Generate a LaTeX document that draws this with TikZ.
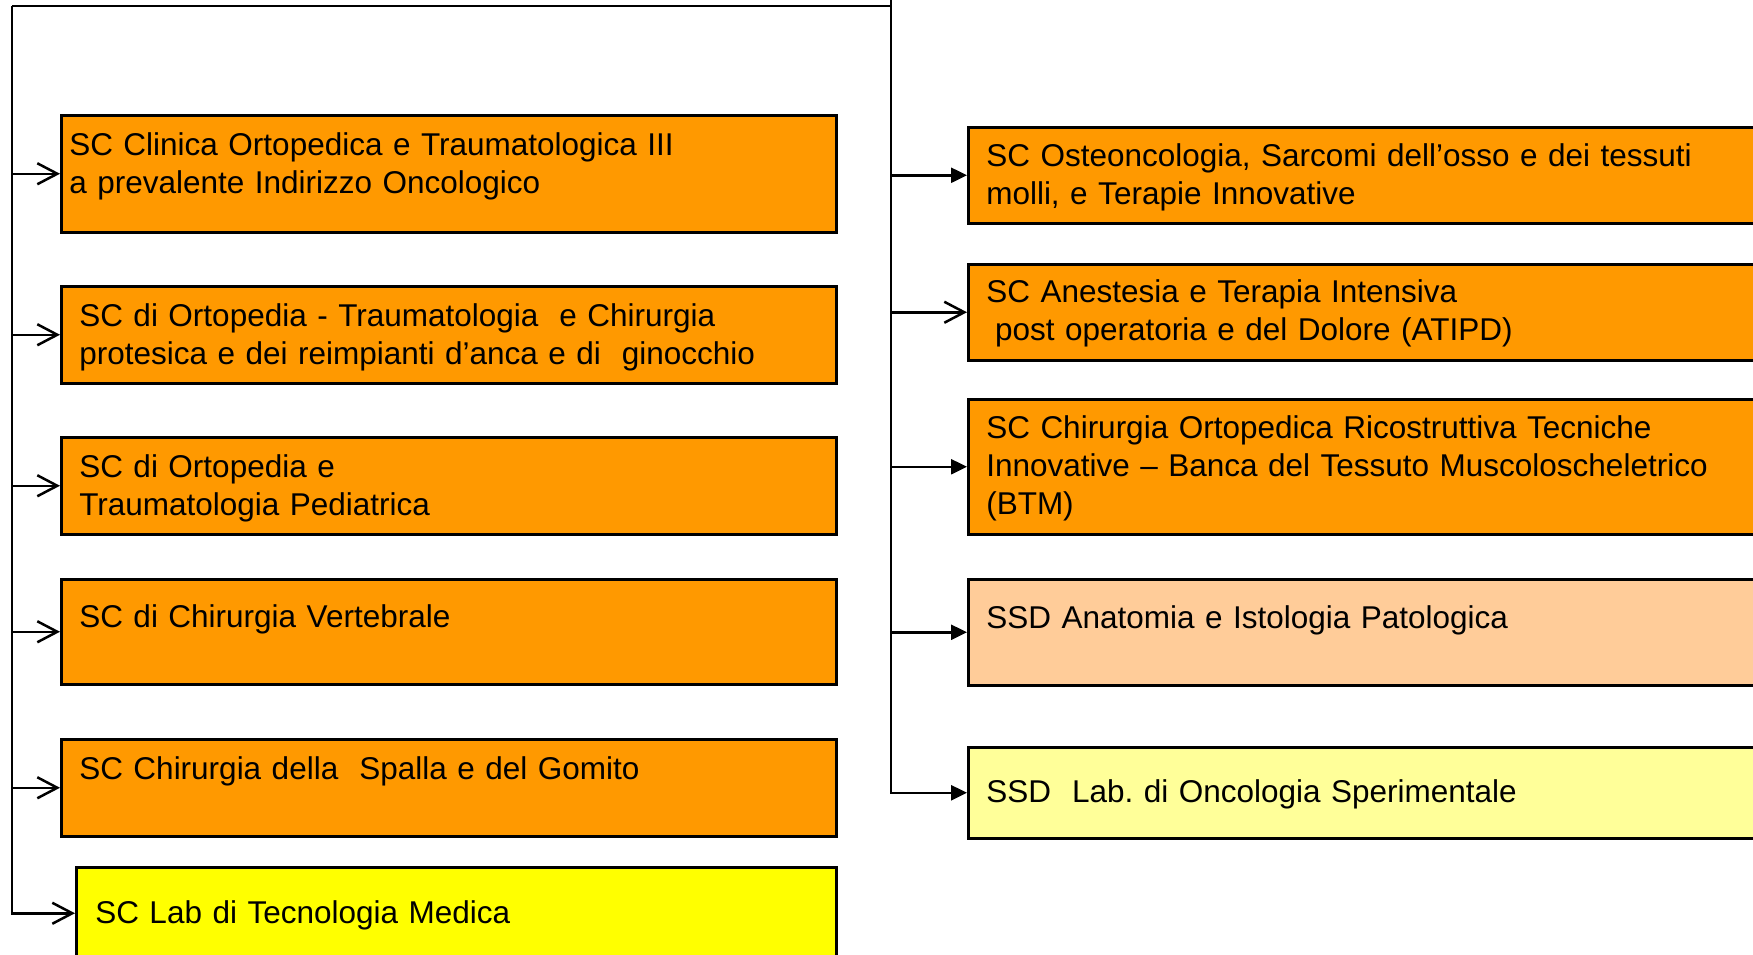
\documentclass[tikz,border=0pt]{standalone}
\usepackage{fontspec}
\setmainfont{Liberation Sans}
\usetikzlibrary{arrows.meta}

\tikzset{every picture/.style={line width=2.5pt}}
\tikzset{
  unitbox/.style={draw=black, line width=2.5pt, anchor=north west, inner sep=0pt},
  orangebox/.style={unitbox, fill={rgb, 255:red, 255; green, 153; blue, 0 }},
  peachbox/.style={unitbox, fill={rgb, 255:red, 255; green, 204; blue, 153 }},
  paleyellowbox/.style={unitbox, fill={rgb, 255:red, 255; green, 255; blue, 153 }},
  yellowbox/.style={unitbox, fill={rgb, 255:red, 255; green, 255; blue, 0 }},
  unittext/.style={anchor=base west, inner sep=0pt, align=left, text width=760pt, font=\fontsize{31.5}{38}\selectfont\frenchspacing},
  openarrow/.style={-{Straight Barb[length=20pt, width=21pt]}},
  fullarrow/.style={-{Triangle[length=16pt, width=15pt]}},
}

\begin{document}
\begin{tikzpicture}[x=1pt,y=1pt,yscale=-1,xscale=1]
  %set diagram left start at 0, and has height of 954
  \useasboundingbox (0,0) rectangle (1753,954);

  % left column
  \node [orangebox, minimum width=775, minimum height=117] (l1) at (60,114) {};
  \node [orangebox, minimum width=775, minimum height=97] (l2) at (60,285) {};
  \node [orangebox, minimum width=775, minimum height=97] (l3) at (60,436) {};
  \node [orangebox, minimum width=775, minimum height=105] (l4) at (60,578) {};
  \node [orangebox, minimum width=775, minimum height=97] (l5) at (60,738) {};
  \node [yellowbox, minimum width=760, minimum height=92] (l6) at (75,866) {};

  % right column
  \node [orangebox, minimum width=810, minimum height=96] (r1) at (967,126) {};
  \node [orangebox, minimum width=810, minimum height=96] (r2) at (967,263) {};
  \node [orangebox, minimum width=810, minimum height=135] (r3) at (967,398) {};
  \node [peachbox, minimum width=810, minimum height=106] (r4) at (967,578) {};
  \node [paleyellowbox, minimum width=810, minimum height=91] (r5) at (967,746) {};

  \node [unittext] (t1) at (68,155) {SC Clinica Ortopedica e Traumatologica III\\a prevalente Indirizzo Oncologico};
  \node [unittext] (t2) at (78,326) {SC di Ortopedia - Traumatologia~ e Chirurgia\\protesica e dei reimpianti d’anca e di~ ginocchio};
  \node [unittext] (t3) at (78,477) {SC di Ortopedia e\\Traumatologia Pediatrica};
  \node [unittext] (t4) at (78,627) {SC di Chirurgia Vertebrale};
  \node [unittext] (t5) at (78,779) {SC Chirurgia della~ Spalla e del Gomito};
  \node [unittext] (t6) at (94,923) {SC Lab di Tecnologia Medica};

  \node [unittext] (u1) at (985,166) {SC Osteoncologia, Sarcomi dell’osso e dei tessuti\\molli, e Terapie Innovative};
  \node [unittext] (u2) at (985,302) {SC Anestesia e Terapia Intensiva\\\hspace*{0.28em}post operatoria e del Dolore (ATIPD)};
  \node [unittext] (u3) at (985,438) {SC Chirurgia Ortopedica Ricostruttiva Tecniche\\Innovative – Banca del Tessuto Muscoloscheletrico\\(BTM)};
  \node [unittext] (u4) at (985,628) {SSD Anatomia e Istologia Patologica};
  \node [unittext] (u5) at (985,802) {SSD~ Lab. di Oncologia Sperimentale};

  % connectors
  \coordinate (feed) at (891,0);
  \coordinate (lbus) at (12,6);
  \draw (feed) |- (lbus);
  \draw [openarrow] (lbus) |- (l6.west);
  \draw [openarrow] (lbus |- l1.west) -- (l1.west);
  \draw [openarrow] (lbus |- l2.west) -- (l2.west);
  \draw [openarrow] (lbus |- l3.west) -- (l3.west);
  \draw [openarrow] (lbus |- l4.west) -- (l4.west);
  \draw [openarrow] (lbus |- l5.west) -- (l5.west);

  \draw [fullarrow] (feed) |- (r5.west);
  \draw [fullarrow] (feed |- r1.west) -- (r1.west);
  \draw [openarrow] (feed |- r2.west) -- (r2.west);
  \draw [fullarrow] (feed |- r3.west) -- (r3.west);
  \draw [fullarrow] (feed |- r4.west) -- (r4.west);

\end{tikzpicture}
\end{document}
